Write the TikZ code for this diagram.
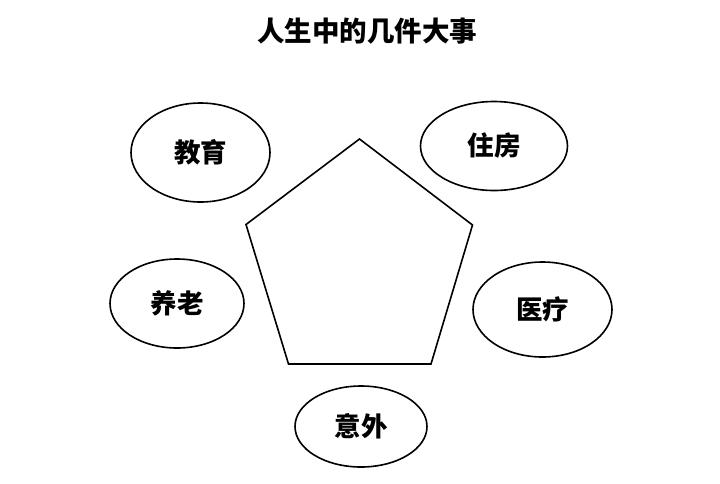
\documentclass[tikz,border=0pt]{standalone}
\usepackage{fontspec}
\newfontfamily\cjk{Noto Sans CJK SC Black}
\usetikzlibrary{shapes.geometric}
\tikzset{
  oval/.style={draw, ellipse, line width=1.6pt, inner sep=0pt, font=\cjk\fontsize{26.5}{26.5}\selectfont},
  penta/.style={draw, line width=1.6pt, line join=miter}
}
\begin{document}
\begin{tikzpicture}[x=1pt,y=-1pt]
\fill[white] (0,0) rectangle (720,483);
\useasboundingbox (0,0) rectangle (720,483);
\node[font=\cjk\fontsize{27.5}{27.5}\selectfont] (title) at (367,31) {人生中的几件大事};
\node[oval, minimum width=139pt, minimum height=99pt] (jiaoyu) at (200.5,152.5) {教育};
\node[oval, minimum width=147pt, minimum height=89pt] (zhufang) at (494,146) {住房};
\node[oval, minimum width=134pt, minimum height=89pt] (yanglao) at (177,303.5) {养老};
\node[oval, minimum width=139pt, minimum height=95pt] (yiliao) at (542.5,309.5) {医疗};
\node[oval, minimum width=132pt, minimum height=81pt] (yiwai) at (361,426.5) {意外};
\coordinate (pt) at (359.5,139);
\coordinate (pr) at (472.5,225);
\coordinate (pbr) at (431,364);
\coordinate (pbl) at (288.5,364);
\coordinate (pl) at (246,224.5);
\draw[penta] (pt) -- (pr) -- (pbr) -- (pbl) -- (pl) -- cycle;
\end{tikzpicture}
\end{document}
